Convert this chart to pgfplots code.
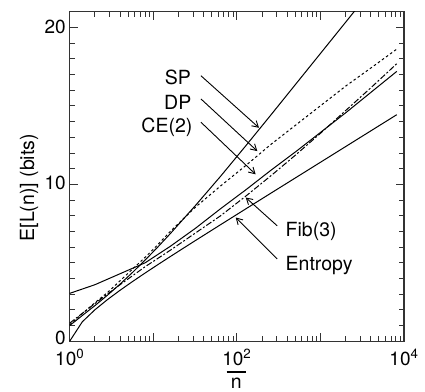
\documentclass[border=0pt]{standalone}
\usepackage{pgfplots}
\pgfplotsset{compat=1.18}
\usepackage{fontspec}
\setmainfont{TeX Gyre Heros}
\usetikzlibrary{arrows.meta}
\begin{document}
\begin{tikzpicture}
\useasboundingbox (-69.7pt,-49.8pt) rectangle (355.3pt,341.2pt);
\begin{axis}[
  at={(0pt,0pt)}, anchor=south west,
  scale only axis, width=334.3pt, height=329.4pt,
  xmode=log, xmin=1, xmax=10000, ymin=0, ymax=21,
  xtick={1,10,100,1000,10000},
  xticklabels={10\textsuperscript{0},,10\textsuperscript{2},,10\textsuperscript{4}},
  minor xtick={2,3,4,5,6,7,8,9,20,30,40,50,60,70,80,90,200,300,400,500,600,700,800,900,2000,3000,4000,5000,6000,7000,8000,9000},
  ytick={0,10,20},
  yticklabels={\raisebox{5pt}{0},10,20},
  minor ytick={1,2,3,4,5,6,7,8,9,11,12,13,14,15,16,17,18,19,21},
  /pgf/number format/assume math mode=true,
  tick align=inside, major tick length=8pt, minor tick length=5pt,
  axis line style={line width=1.1pt, black!80},
  every tick/.style={line width=0.9pt, black!80},
  ticklabel style={font=\fontsize{19}{22}\selectfont, inner sep=0.5pt},
  xticklabel style={yshift=-7.5pt},
  yticklabel style={xshift=-3.3pt, yshift=1pt},
  clip=true,
]
% SP
\addplot[black, line width=1pt] coordinates {(1,1) (1.414,1.636) (2,2.266) (2.828,2.930) (4,3.638) (5.657,4.388) (8,5.177) (11.31,6.0) (16,6.86) (32,8.654) (64,10.52) (128,12.46) (256,14.43) (512,16.42) (1024,18.41) (2048,20.4) (4096,22.4)};
% DP
\addplot[black, line width=1pt, dash pattern=on 2.5pt off 2.5pt] coordinates {(1,1.05) (1.414,1.75) (2,2.45) (2.828,3.1) (4,3.85) (5.657,4.6) (8,5.35) (11.31,6.15) (16,7.0) (32,8.55) (64,9.9) (128,11.2) (256,12.55) (512,13.8) (1024,15.05) (2048,16.3) (4096,17.45) (8192,18.62)};
% CE(2)
\addplot[black, line width=1pt] coordinates {(1,3.05) (2,3.6) (4,4.3) (8,5.0) (16,6.05) (32,7.2) (64,8.45) (128,9.65) (256,10.9) (512,12.1) (1024,13.35) (2048,14.6) (4096,15.9) (8192,17.2)};
% Fib(3)
\addplot[black, line width=1pt, dash pattern=on 6pt off 2pt on 2pt off 2pt] coordinates {(1,1.15) (2,2.4) (4,3.6) (8,4.75) (16,5.8) (32,6.9) (64,8.0) (128,9.25) (256,10.55) (512,11.9) (1024,13.3) (2048,14.75) (4096,16.2) (8192,17.69)};
% Entropy
\addplot[black, line width=1pt] coordinates {(1,0) (1.414,1.234) (2,2.0) (2.828,2.651) (4,3.245) (5.657,3.807) (8,4.349) (11.31,4.877) (16,5.397) (22.63,5.911) (32,6.420) (64,7.431) (128,8.437) (256,9.44) (512,10.44) (1024,11.44) (2048,12.44) (4096,13.44) (8192,14.44)};
\end{axis}
\begin{scope}[font=\fontsize{19.5}{23}\selectfont]
\node[anchor=base east, inner sep=0pt] at (121.3pt,256.5pt) {SP};
\node[anchor=base east, inner sep=0pt] at (121.8pt,231.6pt) {DP};
\node[anchor=base east, inner sep=0pt] at (122.9pt,209.1pt) {CE(2)};
\node[anchor=base west, inner sep=0pt] at (215.8pt,104.8pt) {Fib(3)};
\node[anchor=base west, inner sep=0pt] at (215.8pt,70.6pt) {Entropy};
\node[rotate=90, inner sep=0pt] at (-40.5pt,153.5pt) {E[L(n)] (bits)};
\node[anchor=base, inner sep=0pt] at (166.7pt,-46.8pt) {n};
\end{scope}
\draw[line width=1.5pt] (157pt,-30.8pt) -- (176pt,-30.8pt);
\begin{scope}[line width=0.9pt, -{Straight Barb[length=6pt,width=7pt]}]
\draw (131.2pt,265.5pt) -- (189.3pt,213.4pt);
\draw (131.2pt,242.3pt) -- (187.6pt,190.1pt);
\draw (131.2pt,219.0pt) -- (185.9pt,166.9pt);
\draw (207.5pt,115.4pt) -- (176pt,143.7pt);
\draw (207.5pt,82.2pt) -- (166pt,123.7pt);
\end{scope}
\end{tikzpicture}
\end{document}
